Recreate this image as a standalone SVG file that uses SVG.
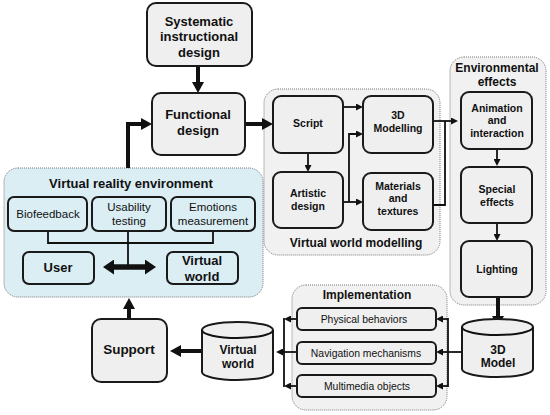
<svg xmlns="http://www.w3.org/2000/svg" width="550" height="415" viewBox="0 0 550 415">
<style>
text{font-family:"Liberation Sans",Arial,sans-serif;fill:#111;text-anchor:middle}
.b{font-weight:bold}
.t13{font-size:13px}
.t12{font-size:12px}
.t105{font-size:10.5px}
.t11{font-size:11.5px}
.tr{font-size:10.4px}
.node{fill:#efefef;stroke:#1a1a1a;stroke-width:2}
.vnode{fill:#dbeef4;stroke:#1a1a1a;stroke-width:2}
.cont{fill:#f1f1f1;stroke:#777;stroke-width:1;stroke-dasharray:1 1}
.vcont{fill:#dbeef4;stroke:#777;stroke-width:1;stroke-dasharray:1 1}
.thick{fill:none;stroke:#111;stroke-width:4}
.thin{fill:none;stroke:#111;stroke-width:1.8}
.line{fill:none;stroke:#111;stroke-width:1.8}
</style>
<defs>
<marker id="big" viewBox="0 0 11 12" refX="1" refY="6" markerWidth="11" markerHeight="12" markerUnits="userSpaceOnUse" orient="auto-start-reverse"><path d="M0,0 L11,6 L0,12 z" fill="#111"/></marker>
<marker id="dbl" viewBox="0 0 11 15" refX="1" refY="7.5" markerWidth="11" markerHeight="15" markerUnits="userSpaceOnUse" orient="auto-start-reverse"><path d="M0,0 L11,7.5 L0,15 z" fill="#111"/></marker>
<marker id="sm" viewBox="0 0 7 7" refX="1" refY="3.5" markerWidth="7" markerHeight="7" markerUnits="userSpaceOnUse" orient="auto"><path d="M0,0 L7,3.5 L0,7 z" fill="#111"/></marker>
</defs>

<g id="containers">
<rect id="vr-env" class="vcont" x="4" y="168" width="259" height="129" rx="14"/>
<rect id="vw-modelling" class="cont" x="264" y="89" width="176" height="166" rx="14"/>
<rect id="env-effects" class="cont" x="450" y="57" width="96" height="248" rx="14"/>
<rect id="implementation" class="cont" x="292" y="285" width="155" height="125" rx="14"/>
<text class="b t13" x="131" y="188">Virtual reality environment</text>
<text class="b t12" x="356" y="247">Virtual world modelling</text>
<text class="b t12" x="497" y="72">Environmental</text>
<text class="b t12" x="497" y="86">effects</text>
<text class="b t12" x="367" y="299">Implementation</text>
</g>

<g id="connectors">
<path class="thick" d="M198,66 V83" marker-end="url(#big)"/>
<path class="thick" d="M245,124 H263" marker-end="url(#big)"/>
<path class="thick" d="M128,168 V124 H142" marker-end="url(#big)"/>
<path class="thick" d="M129,319 V308" marker-end="url(#big)"/>
<path class="thick" d="M202,351 H180" marker-end="url(#big)"/>
<path class="thick" d="M498,297 V317" marker-end="url(#big)"/>
<path class="thick" style="stroke-width:5.5" d="M113,267 H146" marker-start="url(#dbl)" marker-end="url(#dbl)"/>
<path class="line" d="M48,231 V243 H213 V231"/>
<path class="line" d="M128,231 V267"/>
<path class="thin" d="M343,107 H357" marker-end="url(#sm)"/>
<path class="thin" d="M308,153 V166" marker-end="url(#sm)"/>
<path class="thin" d="M343,202 H357" marker-end="url(#sm)"/>
<path class="thin" d="M349,202 V134 H357" marker-end="url(#sm)"/>
<path class="thin" d="M433,121 H452" marker-end="url(#sm)"/>
<path class="line" d="M433,205 H445 V121"/>
<path class="thin" d="M497,149 V160" marker-end="url(#sm)"/>
<path class="thin" d="M497,223 V235" marker-end="url(#sm)"/>
<path class="line" d="M462,352 H448"/>
<path class="line" d="M448,318 V387"/>
<path class="thin" d="M448,319 H442" marker-end="url(#sm)"/>
<path class="thin" d="M448,352 H442" marker-end="url(#sm)"/>
<path class="thin" d="M448,386 H442" marker-end="url(#sm)"/>
<path class="line" d="M284,318 V387"/>
<path class="thin" d="M297,319 H290" marker-end="url(#sm)"/>
<path class="thin" d="M297,386 H290" marker-end="url(#sm)"/>
<path class="thin" d="M297,352 H282" marker-end="url(#sm)"/>
</g>

<g id="systematic"><rect class="node" x="147" y="3" width="105" height="63" rx="9"/>
<text class="b t13" x="199" y="26">Systematic</text><text class="b t13" x="199" y="41">instructional</text><text class="b t13" x="199" y="57">design</text></g>
<g id="functional"><rect class="node" x="152" y="93" width="93" height="62" rx="9"/>
<text class="b t13" x="198" y="119">Functional</text><text class="b t13" x="198" y="135">design</text></g>

<g id="script"><rect class="node" x="273" y="96" width="70" height="57" rx="8"/>
<text class="b t105" x="308" y="127">Script</text></g>
<g id="modelling3d"><rect class="node" x="363" y="96" width="70" height="57" rx="8"/>
<text class="b t105" x="398" y="119">3D</text><text class="b t105" x="398" y="132">Modelling</text></g>
<g id="artistic"><rect class="node" x="273" y="172" width="70" height="56" rx="8"/>
<text class="b t105" x="308" y="197">Artistic</text><text class="b t105" x="308" y="210">design</text></g>
<g id="materials"><rect class="node" x="363" y="173" width="70" height="57" rx="8"/>
<text class="b t105" x="398" y="190">Materials</text><text class="b t105" x="398" y="202">and</text><text class="b t105" x="398" y="215">textures</text></g>

<g id="animation"><rect class="node" x="461" y="92" width="71" height="57" rx="8"/>
<text class="b t105" x="497" y="112">Animation</text><text class="b t105" x="497" y="124">and</text><text class="b t105" x="497" y="137">interaction</text></g>
<g id="special"><rect class="node" x="461" y="167" width="71" height="56" rx="8"/>
<text class="b t105" x="497" y="193">Special</text><text class="b t105" x="497" y="206">effects</text></g>
<g id="lighting"><rect class="node" x="461" y="241" width="71" height="56" rx="8"/>
<text class="b t105" x="497" y="273">Lighting</text></g>

<g id="biofeedback"><rect class="vnode" x="8" y="197" width="79" height="34" rx="6"/>
<text class="t11" x="48" y="218">Biofeedback</text></g>
<g id="usability"><rect class="vnode" x="92" y="197" width="74" height="34" rx="6"/>
<text class="t11" x="129" y="211">Usability</text><text class="t11" x="129" y="225">testing</text></g>
<g id="emotions"><rect class="vnode" x="171" y="197" width="84" height="34" rx="6"/>
<text class="t11" x="213" y="211">Emotions</text><text class="t11" x="213" y="225">measurement</text></g>
<g id="user"><rect class="vnode" x="23" y="252" width="71" height="32" rx="6"/>
<text class="b t13" x="58" y="272">User</text></g>
<g id="vr-world"><rect class="vnode" x="167" y="252" width="71" height="32" rx="6"/>
<text class="b t13" x="202" y="265">Virtual</text><text class="b t13" x="202" y="281">world</text></g>

<g id="support"><rect class="node" x="92" y="319" width="75" height="63" rx="9"/>
<text class="b" style="font-size:13.5px" x="129" y="354">Support</text></g>

<g id="virtual-world-db"><path class="node" d="M202,330 A35.5,8 0 0 1 273,330 V372 A35.5,8 0 0 1 202,372 Z"/>
<path class="line" style="stroke-width:2" d="M202,330 A35.5,8 0 0 0 273,330"/>
<text class="b t12" x="238" y="354">Virtual</text><text class="b t12" x="238" y="368">world</text></g>

<g id="model3d-db"><path class="node" d="M462,327 A35.5,8 0 0 1 533,327 V369 A35.5,8 0 0 1 462,369 Z"/>
<path class="line" style="stroke-width:2" d="M462,327 A35.5,8 0 0 0 533,327"/>
<text class="b t12" x="498" y="354">3D</text><text class="b t12" x="498" y="367">Model</text></g>

<g id="physical"><rect class="node" x="297" y="308" width="139" height="22" rx="5"/>
<text class="tr" x="364" y="323">Physical behaviors</text></g>
<g id="navigation"><rect class="node" x="297" y="342" width="139" height="22" rx="5"/>
<text class="tr" x="366" y="357">Navigation mechanisms</text></g>
<g id="multimedia"><rect class="node" x="297" y="375" width="139" height="22" rx="5"/>
<text class="tr" x="367" y="390">Multimedia objects</text></g>
</svg>
